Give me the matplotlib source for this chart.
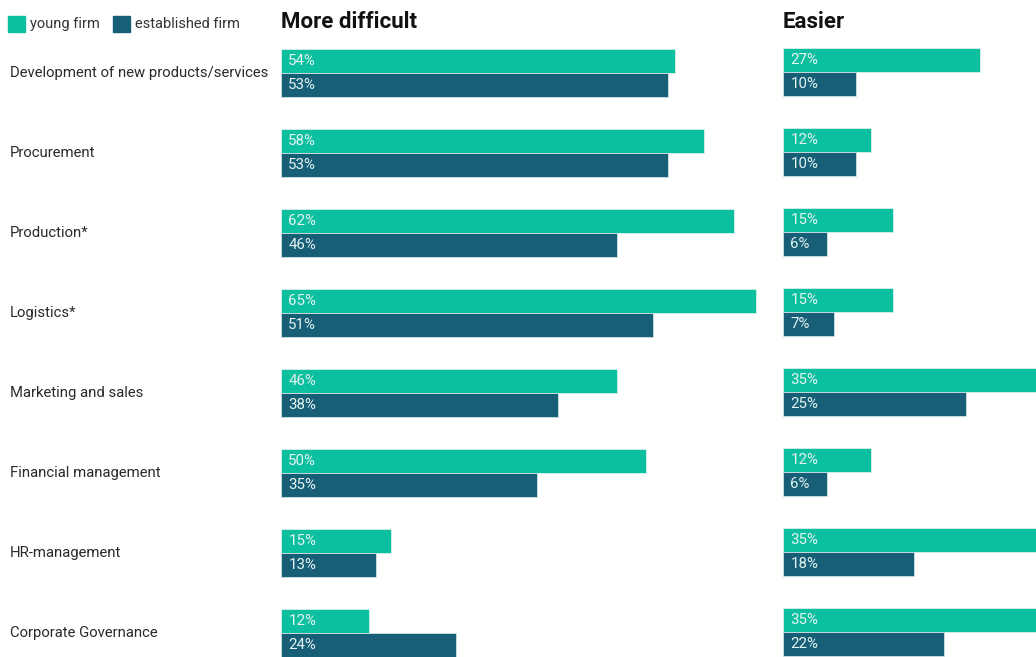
import matplotlib.pyplot as plt
from matplotlib.patches import Rectangle
import numpy as np

categories = ["Development of new products/services", "Procurement", "Production*",
              "Logistics*", "Marketing and sales", "Financial management",
              "HR-management", "Corporate Governance"]
harder_young = [54, 58, 62, 65, 46, 50, 15, 12]
harder_est = [53, 53, 46, 51, 38, 35, 13, 24]
easier_young = [27, 12, 15, 15, 35, 12, 35, 35]
easier_est = [10, 10, 6, 7, 25, 6, 18, 22]
panel_titles = ["More difficult", "Easier"]
series_names = ["young firm", "established firm"]

TEAL = "#0bbf9f"
DARK = "#175f77"
LABEL = "#e4f4f1"
plt.rcParams['font.family'] = ['Roboto', 'DejaVu Sans']

W, H = 1036, 657
fig = plt.figure(figsize=(W / 100, H / 100), dpi=100)

PX = 7.3  # pixels per percent
y = np.arange(len(categories))


def panel(x0, x1, top_px, young, est, title):
    ax = fig.add_axes([x0 / W, 0, (x1 - x0) / W, 1])
    ax.set_xlim(0, (x1 - x0) / PX)
    # row i centre at pixel top_px + 80*i
    ax.set_ylim((H - top_px) / 80, -top_px / 80)
    ax.barh(y - 0.15, young, height=0.3, color=TEAL, edgecolor="#d8efe9", linewidth=0.6)
    ax.barh(y + 0.15, est, height=0.3, color=DARK, edgecolor="#cfe0e6", linewidth=0.6)
    for i in range(len(categories)):
        ax.text(1.0, y[i] - 0.15, f"{young[i]}%", color=LABEL, fontsize=10.8,
                va="center", ha="left")
        ax.text(1.0, y[i] + 0.15, f"{est[i]}%", color=LABEL, fontsize=10.8,
                va="center", ha="left")
    ax.axis("off")
    fig.text(x0 / W, 1 - 22 / H, title, fontsize=16, fontweight="bold",
             va="center", ha="left", color="#111111")
    return ax


panel(281, 775, 73, harder_young, harder_est, panel_titles[0])
panel(783, 1036, 72, easier_young, easier_est, panel_titles[1])

for i, c in enumerate(categories):
    fig.text(10 / W, 1 - (73 + 80 * i) / H, c, fontsize=10.7, color="#2a2a2a",
             va="center", ha="left")

# legend
for x, col, name in [(8, TEAL, series_names[0]), (113, DARK, series_names[1])]:
    fig.add_artist(Rectangle((x / W, 1 - 32 / H), 17 / W, 16 / H,
                             transform=fig.transFigure, color=col))
    fig.text((x + 22) / W, 1 - 24 / H, name, fontsize=10.5, color="#333333",
             va="center", ha="left")

fig.savefig("out.png", dpi=100)
